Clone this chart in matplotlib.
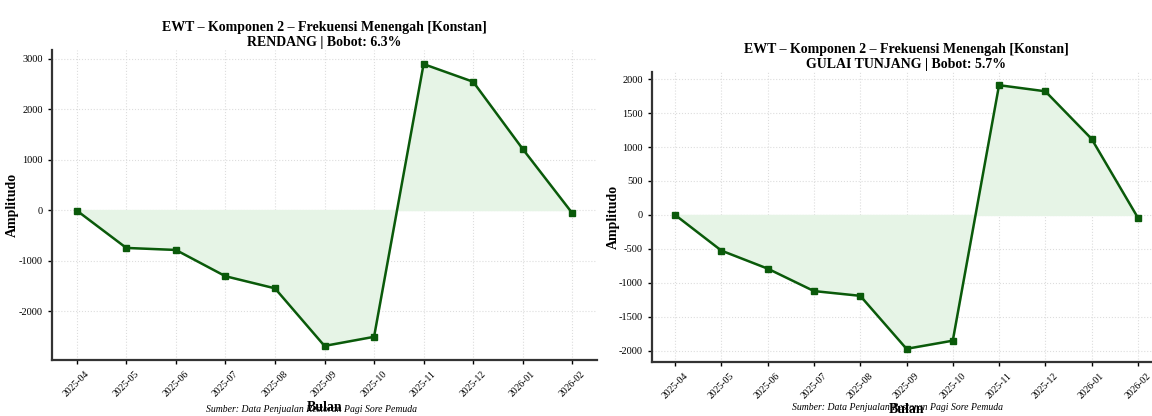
import numpy as np
import matplotlib
matplotlib.use("Agg")
import matplotlib.pyplot as plt

plt.rcParams['font.family'] = ['Liberation Serif', 'DejaVu Serif']
plt.rcParams['axes.unicode_minus'] = False

# bulan pengamatan
bulan = ['2025-04', '2025-05', '2025-06', '2025-07', '2025-08', '2025-09',
         '2025-10', '2025-11', '2025-12', '2026-01', '2026-02']

# komponen 2 EWT per menu
rendang = [-10, -750, -790, -1310, -1550, -2690, -2510, 2890, 2540, 1210, -60]
gulai_tunjang = [0, -525, -790, -1120, -1190, -1970, -1850, 1910, 1820, 1120, -40]

menu = ['RENDANG', 'GULAI TUNJANG']
bobot = [6.3, 5.7]
sumber = 'Sumber: Data Penjualan Restoran Pagi Sore Pemuda'

W, H = 1152, 416
fig = plt.figure(figsize=(W / 100, H / 100), dpi=100)

ax1 = fig.add_axes([52 / W, 56 / H, 545 / W, 310 / H])
ax2 = fig.add_axes([652 / W, 54 / H, 509 / W, 290 / H])

garis = '#0a5a0a'
isian = '#e6f4e6'


def gambar(ax, nilai, nama, b, langkah, ylab_x):
    x = np.arange(len(bulan))
    y = np.array(nilai)
    ax.fill_between(x, y, 0, color=isian, zorder=1)
    ax.plot(x, y, color=garis, lw=1.8, marker='s', ms=5, zorder=3)
    ax.set_xticks(x)
    ax.set_xticklabels(bulan, rotation=45, fontsize=7)
    ax.yaxis.set_major_locator(plt.MultipleLocator(langkah))
    ax.tick_params(axis='y', labelsize=7.5)
    ax.tick_params(length=3, width=1)
    ax.grid(True, ls=':', color='#dddddd', lw=0.8)
    ax.set_axisbelow(True)
    for s in ['top', 'right']:
        ax.spines[s].set_visible(False)
    for s in ['left', 'bottom']:
        ax.spines[s].set_linewidth(1.6)
        ax.spines[s].set_color('#333333')
    ax.set_title(f'EWT – Komponen 2 – Frekuensi Menengah [Konstan]\n{nama} | Bobot: {b}%',
                 fontsize=10, fontweight='bold', pad=3, linespacing=1.15)
    ax.set_ylabel('Amplitudo', fontsize=10, fontweight='bold')
    ax.yaxis.set_label_coords(ylab_x, 0.5)
    ax.set_xlabel('Bulan', fontsize=10, fontweight='bold', labelpad=2)


gambar(ax1, rendang, menu[0], bobot[0], 1000, -0.060)
gambar(ax2, gulai_tunjang, menu[1], bobot[1], 500, -0.064)

fig.text(312 / W, 1 - 409 / H, sumber, fontsize=7, style='italic', ha='center', va='center')
fig.text(898 / W, 1 - 408 / H, sumber, fontsize=7, style='italic', ha='center', va='center')

fig.savefig('out.png', dpi=100)
